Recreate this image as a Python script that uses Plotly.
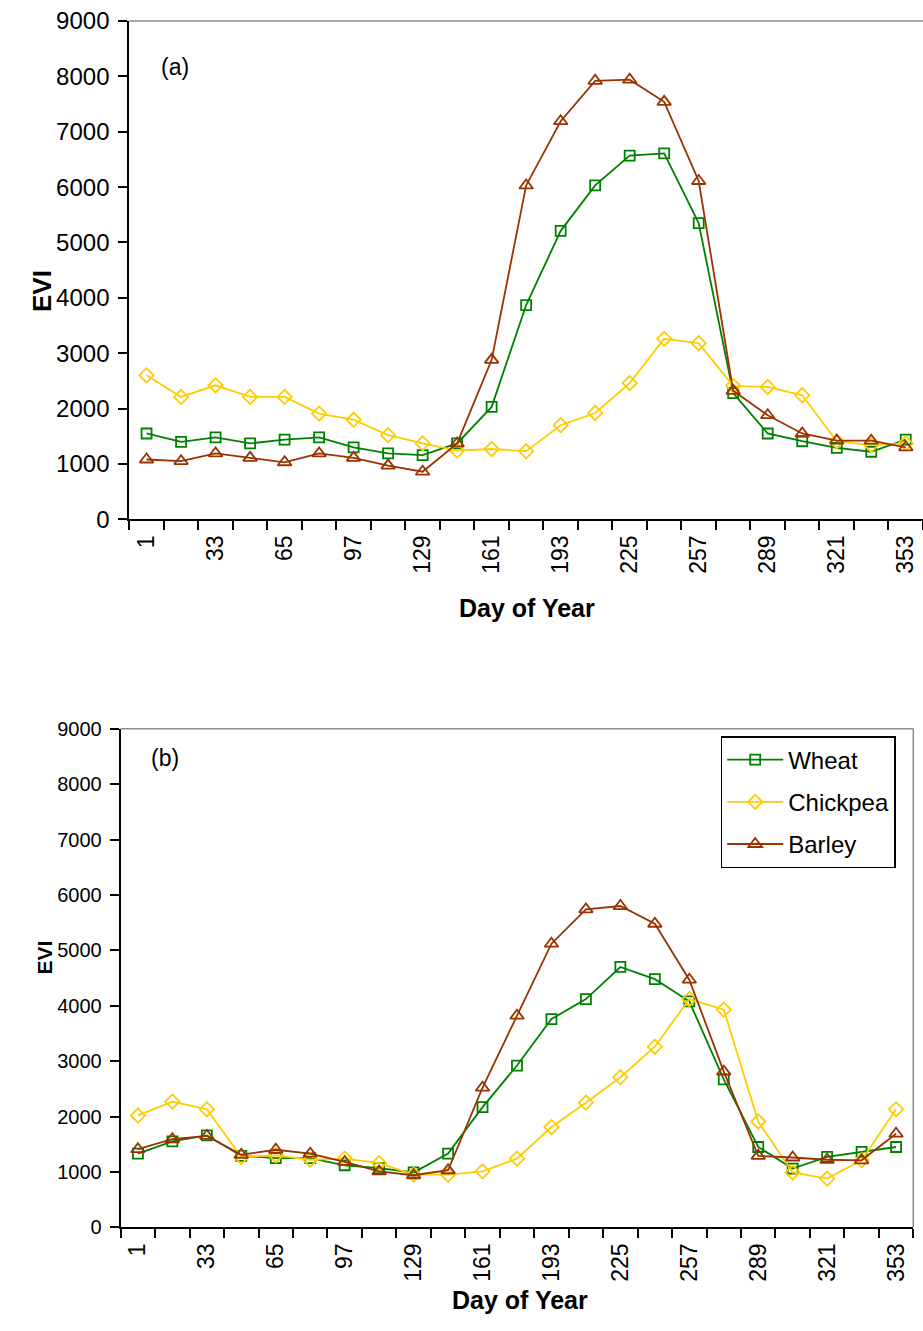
import plotly.graph_objects as go

W, H = 923, 1331

days = [1, 17, 33, 49, 65, 81, 97, 113, 129, 145, 161, 177, 193, 209, 225, 241, 257, 273, 289, 305, 321, 337, 353]
tick_days = [1, 33, 65, 97, 129, 161, 193, 225, 257, 289, 321, 353]

wheat_a = [1550, 1400, 1480, 1370, 1440, 1480, 1300, 1190, 1160, 1370, 2030, 3870, 5210, 6030, 6570, 6610, 5350, 2280, 1550, 1410, 1290, 1220, 1440]
chickpea_a = [2600, 2210, 2420, 2210, 2210, 1910, 1800, 1520, 1370, 1240, 1270, 1230, 1700, 1920, 2460, 3260, 3180, 2410, 2390, 2240, 1410, 1340, 1370]
barley_a = [1080, 1050, 1190, 1110, 1030, 1190, 1110, 970, 860, 1370, 2880, 6030, 7190, 7920, 7940, 7540, 6110, 2320, 1880, 1550, 1420, 1420, 1300]

wheat_b = [1330, 1550, 1660, 1290, 1250, 1250, 1120, 1070, 990, 1330, 2170, 2920, 3760, 4120, 4700, 4480, 4080, 2670, 1450, 1060, 1270, 1360, 1450]
chickpea_b = [2020, 2270, 2130, 1270, 1300, 1220, 1240, 1160, 950, 950, 1010, 1240, 1810, 2250, 2710, 3260, 4120, 3930, 1910, 990, 880, 1210, 2130]
barley_b = [1410, 1590, 1650, 1310, 1400, 1330, 1180, 1010, 940, 1030, 2520, 3820, 5120, 5740, 5800, 5480, 4470, 2810, 1290, 1260, 1220, 1210, 1690]

series_names = ["Wheat", "Chickpea", "Barley"]
colors = ["#008000", "#FFCC00", "#993300"]
symbols = ["square-open", "diamond-open", "triangle-up-open"]
msizes = [10, 11, 12]

FONT = "Arial, Liberation Sans, sans-serif"

fig = go.Figure()

panel_a = [wheat_a, chickpea_a, barley_a]
panel_b = [wheat_b, chickpea_b, barley_b]

for i, ys in enumerate(panel_a):
    fig.add_trace(go.Scatter(
        x=days, y=ys, mode="lines+markers", name=series_names[i],
        line=dict(color=colors[i], width=1.8),
        marker=dict(symbol=symbols[i], size=msizes[i], color=colors[i], line=dict(width=1.8, color=colors[i])),
        showlegend=False, xaxis="x", yaxis="y"))

for i, ys in enumerate(panel_b):
    fig.add_trace(go.Scatter(
        x=days, y=ys, mode="lines+markers", name=series_names[i],
        line=dict(color=colors[i], width=1.8),
        marker=dict(symbol=symbols[i], size=msizes[i], color=colors[i], line=dict(width=1.8, color=colors[i])),
        showlegend=True, legendgroup=series_names[i], xaxis="x2", yaxis="y2"))


def px_x(p):
    return p / W


def px_y(p):
    return 1 - p / H


# panel geometry (pixels)
A = dict(l=129.3, r=923.0, t=21.0, b=519.3)
B = dict(l=120.7, r=913.3, t=728.8, b=1227.3)


def xaxis_cfg(dom, tickfont_size):
    return dict(
        domain=[px_x(dom["l"]), px_x(dom["r"])],
        range=[-7, 361], showgrid=False, zeroline=False,
        showline=True, linecolor="black", linewidth=2,
        tickmode="array", tickvals=tick_days, ticktext=[str(d) for d in tick_days],
        tickangle=-90, ticks="outside", ticklen=0, ticklabelstandoff=5,
        tickfont=dict(family=FONT, size=tickfont_size, color="black"),
        minor=dict(tick0=-7, dtick=16, ticks="outside", ticklen=9, tickwidth=2, tickcolor="black", showgrid=False),
        automargin=False, fixedrange=True)


def yaxis_cfg(dom, tickfont_size, anchor):
    return dict(
        domain=[px_y(dom["b"]), px_y(dom["t"])],
        range=[0, 9000], dtick=1000, tick0=0, showgrid=False, zeroline=False,
        showline=True, linecolor="black", linewidth=2,
        ticks="outside", ticklen=9, tickwidth=2, tickcolor="black",
        tickfont=dict(family=FONT, size=tickfont_size, color="black"),
        ticklabelstandoff=4,
        anchor=anchor, automargin=False, fixedrange=True)


fig.update_layout(
    width=W, height=H,
    margin=dict(l=0, r=0, t=0, b=0),
    paper_bgcolor="white", plot_bgcolor="white",
    font=dict(family=FONT, color="black"),
    xaxis=dict(xaxis_cfg(A, 23), anchor="y"),
    yaxis=yaxis_cfg(A, 24, "x"),
    xaxis2=dict(xaxis_cfg(B, 23), anchor="y2"),
    yaxis2=yaxis_cfg(B, 20, "x2"),
    legend=dict(
        x=px_x(720.7), y=px_y(736), xanchor="left", yanchor="top",
        bgcolor="white", bordercolor="black", borderwidth=1.5,
        font=dict(family=FONT, size=24, color="black"),
        tracegroupgap=8, itemwidth=56),
    showlegend=True,
)

# gray top/right plot-area borders
shapes = [
    dict(type="line", xref="x domain", yref="y domain", x0=0, x1=1, y0=1, y1=1,
         line=dict(color="#8c8c8c", width=1.5)),
    dict(type="line", xref="x2 domain", yref="y2 domain", x0=0, x1=1, y0=1, y1=1,
         line=dict(color="#8c8c8c", width=1.5)),
    dict(type="line", xref="x2 domain", yref="y2 domain", x0=1, x1=1, y0=0, y1=1,
         line=dict(color="#8c8c8c", width=1.5)),
]
fig.update_layout(shapes=shapes)

annotations = [
    dict(text="(a)", x=px_x(158.5), y=px_y(51.7), xref="paper", yref="paper",
         showarrow=False, font=dict(family=FONT, size=23, color="black")),
    dict(text="(b)", x=px_x(148.5), y=px_y(758), xref="paper", yref="paper",
         showarrow=False, font=dict(family=FONT, size=23, color="black")),
    dict(text="<b>EVI</b>", x=px_x(25), y=px_y(268), xref="paper", yref="paper",
         showarrow=False, textangle=-90, font=dict(family=FONT, size=26, color="black")),
    dict(text="<b>EVI</b>", x=px_x(30), y=px_y(977), xref="paper", yref="paper",
         showarrow=False, textangle=-90, font=dict(family=FONT, size=21, color="black")),
    dict(text="<b>Day of Year</b>", x=px_x(527), y=px_y(608), xref="paper", yref="paper",
         showarrow=False, font=dict(family=FONT, size=25, color="black")),
    dict(text="<b>Day of Year</b>", x=px_x(519.5), y=px_y(1316), xref="paper", yref="paper",
         showarrow=False, font=dict(family=FONT, size=25, color="black")),
]
fig.update_layout(annotations=annotations)

fig.write_html("out.html")
